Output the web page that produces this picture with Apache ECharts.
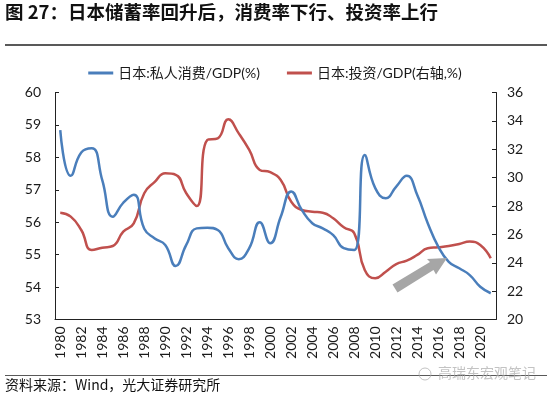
<!DOCTYPE html>
<html>
<head>
<meta charset="utf-8">
<script src="https://cdn.jsdelivr.net/npm/echarts@6/dist/echarts.min.js"></script>
<style>html,body{margin:0;padding:0;background:#fff;}#c{width:550px;height:395px;}</style>
</head>
<body>
<div id="c"></div>
<script>
const years = [];
for (let y = 1980; y <= 2021; y++) years.push(String(y));
const consumption = [58.84,57.43,58.15,58.28,57.3,56.17,56.6,56.85,55.8,55.5,55.3,54.65,55.3,55.81,55.83,55.76,55.2,54.86,55.2,56.0,55.35,56.17,56.95,56.38,55.97,55.81,55.6,55.2,55.14,58.07,57.05,56.74,57.1,57.43,56.84,55.97,55.25,54.78,54.58,54.37,54.01,53.81];
const investment = [27.53,27.25,26.31,24.9,25.06,25.18,26.19,26.78,28.9,29.7,30.3,30.2,28.9,28.0,32.65,32.77,34.11,33.12,31.95,30.54,30.38,29.83,28.3,27.72,27.6,27.53,27.13,26.5,26.08,23.49,22.9,23.37,23.91,24.15,24.55,25.02,25.09,25.18,25.32,25.49,25.25,24.32];
const leftTicks = {min: 53, max: 60, interval: 1};
const rightTicks = {min: 20, max: 36, interval: 2};
const seriesNames = ['日本:私人消费/GDP(%)', '日本:投资/GDP(右轴,%)'];
const titleText = '图 27：日本储蓄率回升后，消费率下行、投资率上行';
const sourceText = '资料来源：Wind，光大证券研究所';

const FONT = "Lato, 'Noto Sans CJK SC', sans-serif";
const chart = echarts.init(document.getElementById('c'));
chart.setOption({
  animation: false,
  backgroundColor: '#fff',
  textStyle: {fontFamily: FONT},
  grid: {left: 55, right: 54, top: 92.5, bottom: 75.5},
  legend: {
    top: 61, left: 'center', itemGap: 27, itemWidth: 25, itemHeight: 3,
    icon: 'rect',
    textStyle: {fontSize: 14, color: '#1a1a1a', fontFamily: FONT},
    data: seriesNames
  },
  xAxis: {
    type: 'category', data: years, boundaryGap: true,
    axisLine: {lineStyle: {color: '#222', width: 1}},
    axisTick: {inside: true, interval: 1, length: 4, lineStyle: {color: '#222'}},
    axisLabel: {interval: 1, rotate: 90, fontSize: 14, color: '#1a1a1a', margin: 7, fontFamily: FONT},
    splitLine: {show: false}
  },
  yAxis: [
    {type: 'value', min: leftTicks.min, max: leftTicks.max, interval: leftTicks.interval,
     axisLine: {show: true, lineStyle: {color: '#222'}},
     axisTick: {show: true, inside: true, length: 4, lineStyle: {color: '#222'}},
     axisLabel: {fontSize: 14, color: '#1a1a1a', margin: 14, fontFamily: FONT},
     splitLine: {show: false}},
    {type: 'value', min: rightTicks.min, max: rightTicks.max, interval: rightTicks.interval,
     position: 'right',
     axisLine: {show: true, lineStyle: {color: '#222'}},
     axisTick: {show: true, inside: true, length: 4, lineStyle: {color: '#222'}},
     axisLabel: {fontSize: 14, color: '#1a1a1a', margin: 11, fontFamily: FONT},
     splitLine: {show: false}}
  ],
  series: [
    {name: seriesNames[0], type: 'line', yAxisIndex: 0, data: consumption, smooth: 0.5,
     symbol: 'none', lineStyle: {color: '#4a7ebb', width: 2.5}, itemStyle: {color: '#4a7ebb'}, z: 3},
    {name: seriesNames[1], type: 'line', yAxisIndex: 1, data: investment, smooth: 0.5,
     symbol: 'none', lineStyle: {color: '#c0504d', width: 2.5}, itemStyle: {color: '#c0504d'}, z: 2}
  ],
  graphic: [
    {type: 'text', left: 5, top: 3, style: {text: titleText, fontSize: 18.5, fontWeight: 'bold', fill: '#111', fontFamily: "'Noto Sans CJK SC', sans-serif"}},
    {type: 'rect', shape: {x: 5, y: 44, width: 542, height: 2}, style: {fill: '#595959'}},
    {type: 'rect', shape: {x: 5, y: 375, width: 542, height: 1}, style: {fill: '#595959'}},
    {type: 'text', left: 5, top: 378, style: {text: sourceText, fontSize: 14, fill: '#111', fontFamily: "'Noto Sans CJK SC', sans-serif"}},
    {type: 'text', left: 438, top: 366, style: {text: '高瑞东宏观笔记', fontSize: 14, fill: 'rgba(170,170,170,0.7)', fontFamily: "'Noto Sans CJK SC', sans-serif"}},
    {type: 'circle', shape: {cx: 425, cy: 374, r: 6}, style: {fill: 'none', stroke: 'rgba(170,170,170,0.7)', lineWidth: 1}},
    {type: 'polygon', z: 10, shape: {points: [[392.5,284.5],[397.5,292.5],[433.5,270],[436,274.5],[447,258],[427,259],[430,262]]},
     style: {fill: '#a6a6a6'}}
  ]
});
</script>
</body>
</html>
